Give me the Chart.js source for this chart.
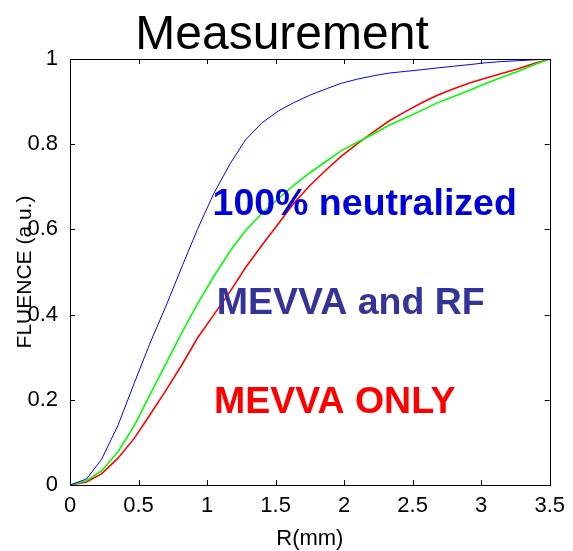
<!DOCTYPE html>
<html lang="en">
<head>
  <meta charset="UTF-8">
  <title>Measurement</title>
  <script src="https://cdn.jsdelivr.net/npm/chart.js"></script>
  <style>
    body { margin: 0; background: #fff; }
    #wrap { width: 573px; height: 551px; }
  </style>
</head>
<body>
  <div id="wrap"><canvas id="chart" width="573" height="551"></canvas></div>
  <script>
    // radius values (mm), shared by all three curves
    const radius = [0, 0.12, 0.23, 0.35, 0.47, 0.58, 0.70, 0.82, 0.93, 1.05, 1.17, 1.28, 1.40, 1.52, 1.63,
                    1.75, 1.87, 1.98, 2.10, 2.22, 2.33, 2.45, 2.57, 2.68, 2.80, 2.92, 3.03, 3.15, 3.27, 3.38, 3.50];
    const neutralized = [0, 0.014, 0.06, 0.14, 0.24, 0.33, 0.42, 0.515, 0.60, 0.685, 0.755, 0.81, 0.85, 0.878, 0.897,
                         0.915, 0.93, 0.943, 0.953, 0.961, 0.967, 0.971, 0.975, 0.979, 0.983, 0.987, 0.991, 0.994, 0.996, 0.998, 1];
    const mevvaRf = [0, 0.01, 0.033, 0.078, 0.14, 0.21, 0.285, 0.36, 0.425, 0.49, 0.55, 0.597, 0.638, 0.672, 0.703,
                     0.733, 0.76, 0.785, 0.805, 0.825, 0.845, 0.862, 0.88, 0.897, 0.912, 0.927, 0.942, 0.957, 0.971, 0.986, 1];
    const mevvaOnly = [0, 0.007, 0.026, 0.063, 0.11, 0.163, 0.222, 0.284, 0.345, 0.40, 0.455, 0.51, 0.563, 0.613, 0.66,
                       0.703, 0.74, 0.772, 0.802, 0.83, 0.855, 0.877, 0.898, 0.915, 0.93, 0.944, 0.955, 0.966, 0.977, 0.989, 1];

    // in-plot labels: text, colour, anchor (data coords, left/baseline)
    const noteText = ['100% neutralized', 'MEVVA and RF', 'MEVVA ONLY'];
    const noteColor = ['#0000dd', '#333399', '#ff0000'];
    const noteX = [1.04, 1.07, 1.05];
    const noteY = [0.634, 0.401, 0.169];

    const FONT = '"Liberation Sans", Arial, Helvetica, sans-serif';

    const pts = ys => radius.map((x, i) => ({ x: x, y: ys[i] }));
    const fmt = v => String(+v.toFixed(1));

    // frame, inward ticks on all sides, titles and the text notes
    const decor = {
      id: 'decor',
      afterDraw(chart) {
        const ctx = chart.ctx;
        const a = chart.chartArea;
        const xs = chart.scales.x, ys = chart.scales.y;
        const tl = 5;
        ctx.save();
        ctx.strokeStyle = '#000';
        ctx.lineWidth = 1;
        ctx.strokeRect(Math.round(a.left) + 0.5, Math.round(a.top) + 0.5,
                       Math.round(a.right - a.left), Math.round(a.bottom - a.top));
        ctx.beginPath();
        xs.ticks.forEach(t => {
          const px = Math.round(xs.getPixelForValue(t.value)) + 0.5;
          ctx.moveTo(px, a.bottom); ctx.lineTo(px, a.bottom - tl);
          ctx.moveTo(px, a.top); ctx.lineTo(px, a.top + tl);
        });
        ys.ticks.forEach(t => {
          const py = Math.round(ys.getPixelForValue(t.value)) + 0.5;
          ctx.moveTo(a.left, py); ctx.lineTo(a.left + tl, py);
          ctx.moveTo(a.right, py); ctx.lineTo(a.right - tl, py);
        });
        ctx.stroke();

        ctx.fillStyle = '#000';
        ctx.textBaseline = 'alphabetic';
        ctx.textAlign = 'center';
        ctx.font = '48px ' + FONT;
        ctx.fillText('Measurement', 282, 49);

        ctx.font = '22px ' + FONT;
        ctx.fillText('R(mm)', (a.left + a.right) / 2, 545);

        ctx.save();
        ctx.translate(31, (a.top + a.bottom) / 2);
        ctx.rotate(-Math.PI / 2);
        ctx.font = '21px ' + FONT;
        ctx.fillText('FLUENCE (a.u.)', 0, 0);
        ctx.restore();

        ctx.textAlign = 'left';
        ctx.font = 'bold 37.5px ' + FONT;
        noteText.forEach((s, i) => {
          ctx.fillStyle = noteColor[i];
          ctx.fillText(s, xs.getPixelForValue(noteX[i]), ys.getPixelForValue(noteY[i]));
        });
        ctx.restore();
      }
    };

    new Chart(document.getElementById('chart'), {
      type: 'line',
      data: {
        datasets: [
          { label: '100% neutralized', data: pts(neutralized), borderColor: '#0000ff', borderWidth: 1 },
          { label: 'MEVVA and RF', data: pts(mevvaRf), borderColor: '#00ff00', borderWidth: 1.6 },
          { label: 'MEVVA ONLY', data: pts(mevvaOnly), borderColor: '#ff0000', borderWidth: 1.6 }
        ]
      },
      options: {
        responsive: false,
        animation: false,
        devicePixelRatio: 1,
        elements: { point: { radius: 0 }, line: { tension: 0, fill: false } },
        layout: { padding: { top: 59, right: 22, left: 0, bottom: 0 } },
        plugins: { legend: { display: false }, title: { display: false }, tooltip: { enabled: false } },
        scales: {
          x: {
            type: 'linear', min: 0, max: 3.5,
            grid: { display: false, drawTicks: false },
            border: { display: false },
            ticks: { stepSize: 0.5, padding: 8, color: '#000', maxRotation: 0, callback: fmt,
                     font: { family: FONT, size: 22 } },
            afterFit: s => { s.height = 66; }
          },
          y: {
            min: 0, max: 1,
            grid: { display: false, drawTicks: false },
            border: { display: false },
            ticks: { stepSize: 0.2, padding: 12, color: '#000', callback: fmt,
                     font: { family: FONT, size: 22 } },
            afterFit: s => { s.height; s.width = 70; }
          }
        }
      },
      plugins: [decor]
    });
  </script>
</body>
</html>
